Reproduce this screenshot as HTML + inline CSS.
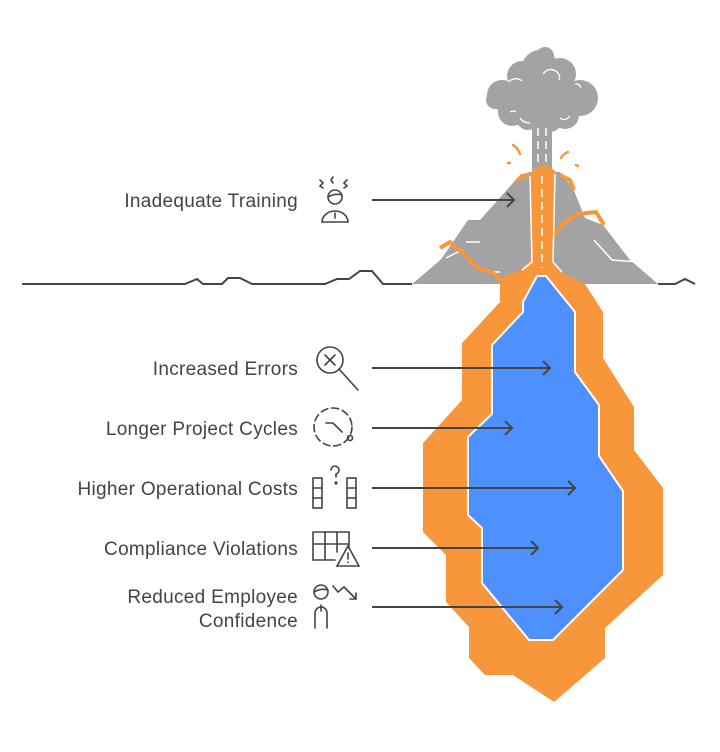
<!DOCTYPE html>
<html><head><meta charset="utf-8"><style>
html,body{margin:0;padding:0;background:#fff;}
svg{display:block;}
text{font-family:"Liberation Sans",sans-serif;font-size:19px;letter-spacing:0.3px;fill:#444;}
</style></head><body>
<svg width="720" height="752" viewBox="0 0 720 752" xmlns="http://www.w3.org/2000/svg">
<!-- cloud -->
<g fill="#a3a3a3">
<circle cx="540" cy="68" r="18"/><circle cx="522" cy="76" r="15"/><circle cx="560" cy="74" r="16"/>
<circle cx="502" cy="95" r="15"/><circle cx="580" cy="98" r="18"/><circle cx="540" cy="98" r="26"/>
<circle cx="512" cy="112" r="14"/><circle cx="565" cy="115" r="14"/><circle cx="545" cy="56" r="9"/>
<circle cx="528" cy="118" r="12"/><circle cx="550" cy="120" r="12"/><circle cx="495" cy="100" r="9"/>
<rect x="532" y="110" width="20" height="65"/>
</g>
<g stroke="#fff" stroke-width="1.3" fill="none">
<path d="M508 82 q8 -6 14 -1"/><path d="M543 74 q6 -8 14 -2 q4 4 2 8"/><path d="M575 84 q4 -1 6 4"/>
<path d="M510 112 q4 -2 6 0"/><path d="M520 118 q3 5 10 5"/><path d="M560 118 q5 4 10 -2"/>
</g>
<path d="M538 128 V162 M546 128 V162" stroke="#fff" stroke-width="1.5" stroke-dasharray="8 5"/>
<!-- sparks -->
<g stroke="#f7963a" stroke-width="2.5" fill="none" stroke-linecap="round">
<path d="M513 145 q5 3 7 9"/><path d="M508 163 l2 0"/><path d="M568 152 q-5 2 -7 6"/><path d="M576 165 l2 1"/>
</g>
<!-- mountain -->
<polygon points="412,284 438,262 442,258 468,220 480,220 513,183 520,175 530,172 560,172 573,188 585,218 603,225 630,260 658,284" fill="#a3a3a3"/>
<g stroke="#fff" stroke-width="1.5" fill="none">
<path d="M446 258 L462 250 L470 262 L488 272 L500 272"/>
<path d="M466 242 L480 242"/>
<path d="M594 240 L612 260 L640 262"/>
</g>
<!-- lava flows -->
<g stroke="#f7963a" stroke-width="4" fill="none" stroke-linejoin="round">
<path d="M440 248 L450 242 L462 252 L478 268 L492 272 L500 280"/>
<path d="M552 236 L565 222 L578 214 L596 212 L604 225"/>
<path d="M516 182 L522 176 L530 175"/>
<path d="M560 175 L570 180 L574 190"/>
</g>
<polygon points="530,175 536,167 548,165 556,172 553,262 560,272 585,284 500,284 500,278 524,268 531,258" fill="#f7963a"/>
<path d="M542 176 V268" stroke="#fff" stroke-width="1.5" stroke-dasharray="8 5"/>
<path d="M530 176 L532 262 L522 270" stroke="#fff" stroke-width="1.5" fill="none"/>
<path d="M555 174 L553 262 L562 272" stroke="#fff" stroke-width="1.5" fill="none"/>
<!-- magma chamber -->
<polygon points="500,284 500,302 462,343 462,400 423,443 423,532 446,555 446,602 469,627 469,658 485,675 513,675 554,702 605,658 605,628 663,575 663,488 634,450 634,407 603,358 603,312 585,284" fill="#f7963a"/>
<polygon points="537,276 546,276 575,312 575,372 599,405 599,456 623,491 623,570 553,640 529,640 482,583 482,528 468,515 468,437 492,414 492,345 523,312 523,302" fill="#4d90fe" stroke="#fff" stroke-width="2"/>
<!-- ground -->
<path d="M22 284 H185 L197 279 L203 284 H222 L228 278 H240 L252 284 H325 L337 279 H349 L360 271 H372 L383 284 H412 M658 284 H675 L685 279 L695 284" stroke="#444" stroke-width="2" fill="none"/>
<!-- arrows -->
<g stroke="#444" stroke-width="2" fill="none">
<path d="M372 200 H514 M507 193 L514 200 L507 207"/>
<path d="M372 368 H550 M543 361 L550 368 L543 375"/>
<path d="M372 428 H512 M505 421 L512 428 L505 435"/>
<path d="M372 488 H575 M568 481 L575 488 L568 495"/>
<path d="M372 548 H538 M531 541 L538 548 L531 555"/>
<path d="M372 607 H562 M555 600 L562 607 L555 614"/>
</g>
<!-- labels -->
<text x="298" y="207" text-anchor="end">Inadequate Training</text>
<text x="298" y="375" text-anchor="end">Increased Errors</text>
<text x="298" y="435" text-anchor="end">Longer Project Cycles</text>
<text x="298" y="495" text-anchor="end">Higher Operational Costs</text>
<text x="298" y="555" text-anchor="end">Compliance Violations</text>
<text x="298" y="603" text-anchor="end">Reduced Employee</text>
<text x="298" y="627" text-anchor="end">Confidence</text>
<!-- icons -->
<g stroke="#444" stroke-width="1.6" fill="none" stroke-linecap="round">
<circle cx="335" cy="197" r="7"/><path d="M328 197 q7 -4 14 -2"/>
<path d="M322 222 a13 11 0 0 1 26 0 Z M335 213 V218"/>
<path d="M320 180 l3 3 l-3 3 l3 2 M333 177 l-2 3 l2 3 M347 180 l-3 3 l3 3 l-3 2"/>
<circle cx="330" cy="360" r="13"/><path d="M325 355 l10 10 M335 355 l-10 10 M339 369 L358 390"/>
<circle cx="333" cy="427" r="19" stroke-dasharray="7 4"/><path d="M326 423 h7 l9 9"/><circle cx="350" cy="438" r="2.5"/>
<rect x="313" y="478" width="9" height="30"/><path d="M313 488 h9 M313 498 h9"/>
<rect x="347" y="478" width="9" height="30"/><path d="M347 488 h9 M347 498 h9"/>
<path d="M331 470 a4 4 0 1 1 5 4 v3"/><circle cx="336" cy="483" r="0.8"/>
<path d="M313 532 h36 v16 M313 532 v28 h22 M313 544 h36 M325 532 v28 M337 532 v20"/>
<path d="M348 546 l11 20 h-22 Z M348 553 v6 M348 562 v0.5"/>
<circle cx="321" cy="592" r="7"/><path d="M314 592 q7 -4 14 -2"/>
<path d="M315 628 v-15 a6 6 0 0 1 12 0 v15 M321 605 v6"/>
<path d="M333 586 l5 6 l6 -5 l12 12 M350 599 h6 v-6"/>
</g>
</svg>
</body></html>
